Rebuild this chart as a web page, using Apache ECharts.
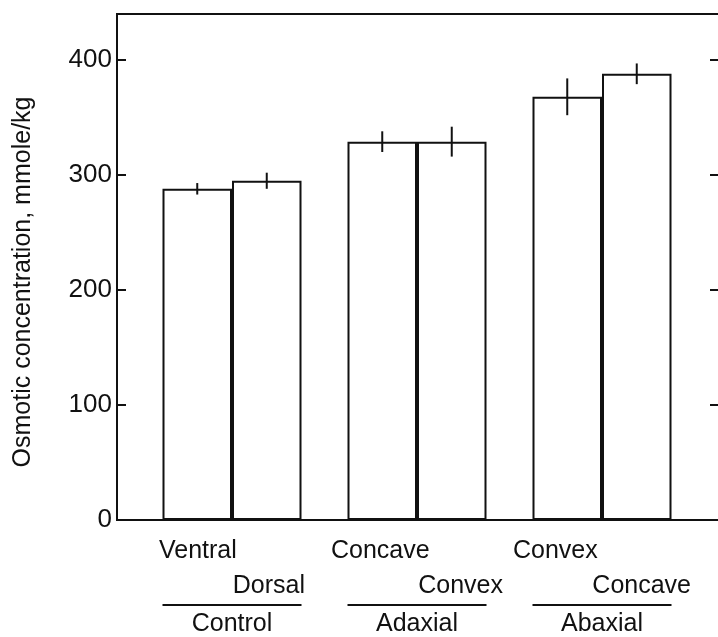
<!DOCTYPE html>
<html>
<head>
<meta charset="utf-8">
<title>Osmotic concentration</title>
<script src="https://cdn.jsdelivr.net/npm/echarts@6/dist/echarts.min.js"></script>
<style>
    html, body { margin: 0; padding: 0; background: #fff; }
    #main { width: 718px; height: 637px; }
</style>
</head>
<body>
<div id="main"></div>
<script>
// data
var groups = ['Control', 'Adaxial', 'Abaxial'];
var firstNames = ['Ventral', 'Concave', 'Convex'];
var secondNames = ['Dorsal', 'Convex', 'Concave'];
var firstVals = [288, 329, 368];
var secondVals = [295, 329, 388];
var firstErr = [5, 9, 16];
var secondErr = [7, 13, 9];
var yMax = 440;

var ink = '#111';
var font = "'Liberation Sans', Arial, Helvetica, sans-serif";
var barW = 69.5;
// how wide each two-line label block spreads (first name flush left, second flush right)
var rowW = [146, 172, 178];

var myChart = echarts.init(document.getElementById('main'));

// rich styles for the category labels, one pair per group
var rich = {
    hr: { width: 139, height: 2, align: 'center', lineHeight: 4, backgroundColor: ink },
    c: { align: 'center', fontSize: 25, lineHeight: 34, color: ink, fontFamily: font }
};
rowW.forEach(function (w, i) {
    rich['a' + i] = { width: w, align: 'left', fontSize: 25, lineHeight: 36, color: ink, fontFamily: font };
    rich['b' + i] = { width: w, align: 'right', fontSize: 25, lineHeight: 34, color: ink, fontFamily: font };
});

// vertical error line, no caps, drawn in the middle of its bar
function errorItem(side) {
    return function (params, api) {
        var i = api.value(0);
        var v = api.value(1);
        var e = api.value(2);
        var hi = api.coord([i, v + e]);
        var lo = api.coord([i, v - e]);
        var x = hi[0] + side * barW / 2;
        return {
            type: 'line',
            shape: { x1: x, y1: hi[1], x2: x, y2: lo[1] },
            style: { stroke: ink, lineWidth: 2 }
        };
    };
}

var option = {
    animation: false,
    backgroundColor: '#fff',
    textStyle: { fontFamily: font, color: ink },
    grid: [
        // bars live here, bands of 185px
        { left: 139.5, right: 23.5, top: 14, bottom: 117, outerBoundsMode: 'none' },
        // frame + visible y axes
        { left: 117, right: -1, top: 14, bottom: 117, outerBoundsMode: 'none',
          show: true, borderColor: ink, borderWidth: 2, backgroundColor: 'transparent' }
    ],
    xAxis: [{
        type: 'category',
        gridIndex: 0,
        data: groups,
        axisLine: { show: false },
        axisTick: { show: false },
        splitLine: { show: false },
        axisLabel: {
            interval: 0,
            margin: 13,
            color: ink,
            fontFamily: font,
            formatter: function (value, index) {
                return '{a' + index + '|' + firstNames[index] + '}\n{b' + index + '|' + secondNames[index] + '}\n{hr|}\n{c|' + value + '}';
            },
            rich: rich
        }
    }, {
        type: 'value',
        gridIndex: 1,
        show: false
    }],
    yAxis: [{
        type: 'value',
        gridIndex: 0,
        min: 0,
        max: yMax,
        show: false
    }, {
        type: 'value',
        gridIndex: 1,
        position: 'left',
        min: 0,
        max: yMax,
        interval: 100,
        name: 'Osmotic concentration, mmole/kg',
        nameLocation: 'middle',
        nameGap: 81,
        nameTextStyle: { fontSize: 25, color: ink, fontFamily: font, padding: [0, 30, 0, 0] },
        axisLine: { show: true, lineStyle: { color: ink, width: 2 } },
        axisTick: { show: true, inside: true, length: 9, lineStyle: { color: ink, width: 2 } },
        axisLabel: { fontSize: 26, color: ink, fontFamily: font, margin: 5, showMaxLabel: false },
        splitLine: { show: false }
    }, {
        type: 'value',
        gridIndex: 1,
        position: 'right',
        min: 0,
        max: yMax,
        interval: 100,
        axisLine: { show: true, lineStyle: { color: ink, width: 2 } },
        axisTick: { show: true, inside: true, length: 9, lineStyle: { color: ink, width: 2 } },
        axisLabel: { show: false },
        splitLine: { show: false }
    }],
    series: [{
        type: 'bar',
        name: 'first',
        xAxisIndex: 0,
        yAxisIndex: 0,
        barWidth: barW,
        barGap: '0%',
        itemStyle: { color: '#fff', borderColor: ink, borderWidth: 2 },
        data: firstVals
    }, {
        type: 'bar',
        name: 'second',
        xAxisIndex: 0,
        yAxisIndex: 0,
        barWidth: barW,
        barGap: '0%',
        itemStyle: { color: '#fff', borderColor: ink, borderWidth: 2 },
        data: secondVals
    }, {
        type: 'custom',
        xAxisIndex: 0,
        yAxisIndex: 0,
        z: 5,
        renderItem: errorItem(-1),
        data: firstVals.map(function (v, i) { return [i, v, firstErr[i]]; })
    }, {
        type: 'custom',
        xAxisIndex: 0,
        yAxisIndex: 0,
        z: 5,
        renderItem: errorItem(1),
        data: secondVals.map(function (v, i) { return [i, v, secondErr[i]]; })
    }]
};

myChart.setOption(option);
window.addEventListener('resize', function () {
    myChart.resize();
});
</script>
</body>
</html>
